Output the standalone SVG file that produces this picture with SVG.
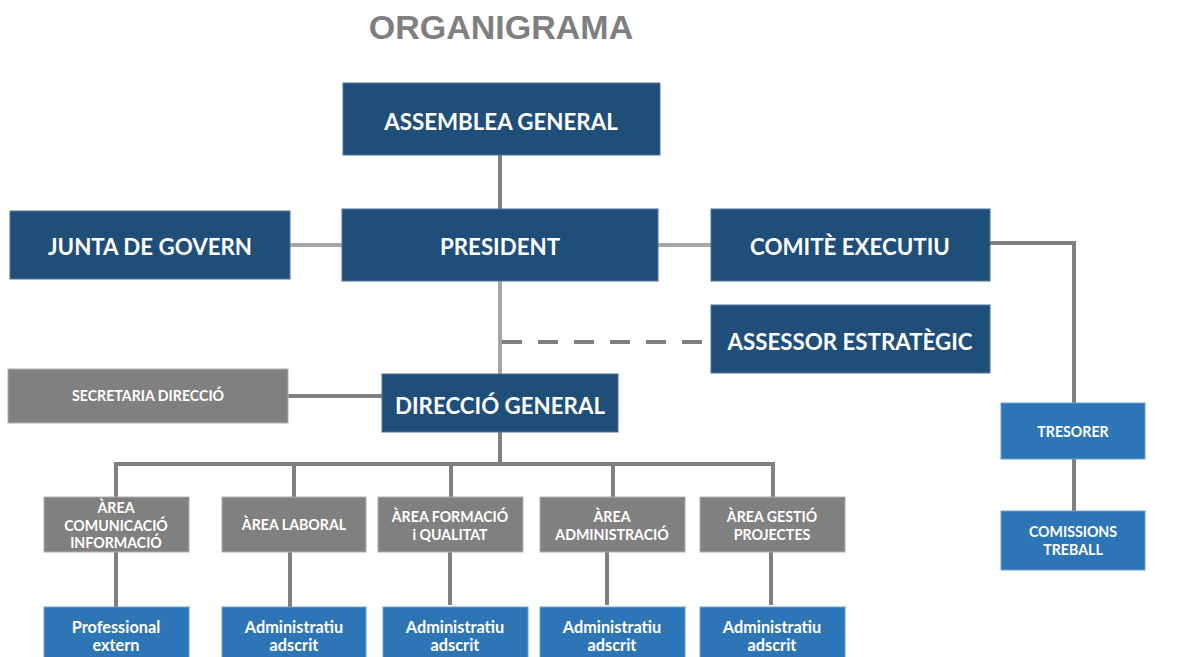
<svg xmlns="http://www.w3.org/2000/svg" width="1189" height="657" viewBox="0 0 1189 657">
<style>
.dk{fill:#1f4e79;stroke:#4f7599;stroke-width:1}
.gr{fill:#808080;stroke:#b0b0b0;stroke-width:1}
.lb{fill:#2e75b6;stroke:#6e9fcf;stroke-width:1}
.t{font-family:Lato,"Open Sans",sans-serif;font-weight:700;fill:#ffffff;text-anchor:middle}
.big{font-size:22.3px}
.sm{font-size:14.2px}
.bt{font-size:16.3px}
.ln{fill:none;stroke:#7f7f7f;stroke-width:4}
.ll{fill:none;stroke:#a6a6a6;stroke-width:4}
</style>
<rect width="1189" height="657" fill="#ffffff"/>
<text x="501" y="39" style="font-family:'Liberation Sans',Arial,sans-serif;font-weight:700;font-size:34px;fill:#7f7f7f" text-anchor="middle">ORGANIGRAMA</text>
<g id="connectors">
<line class="ln" x1="500" y1="155" x2="500" y2="209"/>
<line class="ll" x1="290" y1="245" x2="342" y2="245"/>
<line class="ll" x1="658" y1="245" x2="711" y2="245"/>
<polyline class="ln" points="990,243 1074,243 1074,403"/>
<line class="ll" x1="500" y1="281" x2="500" y2="374"/>
<line class="ln" x1="502" y1="342" x2="702" y2="342" stroke-dasharray="20 16"/>
<line class="ln" x1="288" y1="396" x2="382" y2="396"/>
<line class="ln" x1="500" y1="432" x2="500" y2="464"/>
<polyline class="ln" points="116,497 116,464 773,464 773,497"/>
<line class="ln" x1="294" y1="464" x2="294" y2="497"/>
<line class="ln" x1="451" y1="464" x2="451" y2="497"/>
<line class="ln" x1="613" y1="464" x2="613" y2="497"/>
<line class="ln" x1="116" y1="552" x2="116" y2="607"/>
<line class="ln" x1="290" y1="552" x2="290" y2="607"/>
<line class="ln" x1="450" y1="552" x2="450" y2="605"/>
<line class="ln" x1="607" y1="552" x2="607" y2="605"/>
<line class="ln" x1="771" y1="552" x2="771" y2="605"/>
<line class="ln" x1="1074" y1="459" x2="1074" y2="511"/>
</g>
<g id="assemblea"><rect class="dk" x="343" y="83" width="317" height="72"/><text class="t big" x="501" y="129.5">ASSEMBLEA GENERAL</text></g>
<g id="junta"><rect class="dk" x="10" y="211" width="280" height="68"/><text class="t big" x="150" y="254.5">JUNTA DE GOVERN</text></g>
<g id="president"><rect class="dk" x="342" y="209" width="316" height="72"/><text class="t big" x="500" y="254.5">PRESIDENT</text></g>
<g id="comite"><rect class="dk" x="711" y="209" width="279" height="72"/><text class="t big" x="850" y="254.5">COMITÈ EXECUTIU</text></g>
<g id="assessor"><rect class="dk" x="711" y="305" width="279" height="68"/><text class="t big" x="850" y="349.5">ASSESSOR ESTRATÈGIC</text></g>
<g id="secretaria"><rect class="gr" x="8" y="369" width="280" height="54"/><text class="t sm" x="148" y="401">SECRETARIA DIRECCIÓ</text></g>
<g id="direccio"><rect class="dk" x="382" y="374" width="236" height="58"/><text class="t big" x="500" y="413.5">DIRECCIÓ GENERAL</text></g>
<g id="tresorer"><rect class="lb" x="1001" y="403" width="144" height="56"/><text class="t sm" x="1073" y="437">TRESORER</text></g>
<g id="comissions"><rect class="lb" x="1001" y="511" width="144" height="59"/><text class="t sm" x="1073" y="537">COMISSIONS</text><text class="t sm" x="1073" y="555">TREBALL</text></g>
<g id="area-comunicacio"><rect class="gr" x="44" y="497" width="145" height="55"/><text class="t sm" x="116" y="512.5">ÀREA</text><text class="t sm" x="116" y="530.5">COMUNICACIÓ</text><text class="t sm" x="116" y="547.5">INFORMACIÓ</text></g>
<g id="area-laboral"><rect class="gr" x="222" y="497" width="144" height="55"/><text class="t sm" x="294" y="529.5">ÀREA LABORAL</text></g>
<g id="area-formacio"><rect class="gr" x="378" y="497" width="145" height="55"/><text class="t sm" x="450" y="521.5">ÀREA FORMACIÓ</text><text class="t sm" x="450" y="539.5">i QUALITAT</text></g>
<g id="area-administracio"><rect class="gr" x="540" y="497" width="145" height="55"/><text class="t sm" x="612" y="521.5">ÀREA</text><text class="t sm" x="612" y="539.5">ADMINISTRACIÓ</text></g>
<g id="area-gestio"><rect class="gr" x="700" y="497" width="145" height="55"/><text class="t sm" x="772" y="521.5">ÀREA GESTIÓ</text><text class="t sm" x="772" y="539.5">PROJECTES</text></g>
<g id="professional"><rect class="lb" x="44" y="607" width="145" height="52"/><text class="t bt" x="116" y="632.5">Professional</text><text class="t bt" x="116" y="650.5">extern</text></g>
<g id="adm-laboral"><rect class="lb" x="222" y="607" width="144" height="52"/><text class="t bt" x="294" y="632.5">Administratiu</text><text class="t bt" x="294" y="650.5">adscrit</text></g>
<g id="adm-formacio"><rect class="lb" x="383" y="607" width="145" height="52"/><text class="t bt" x="455" y="632.5">Administratiu</text><text class="t bt" x="455" y="650.5">adscrit</text></g>
<g id="adm-administracio"><rect class="lb" x="540" y="607" width="145" height="52"/><text class="t bt" x="612" y="632.5">Administratiu</text><text class="t bt" x="612" y="650.5">adscrit</text></g>
<g id="adm-gestio"><rect class="lb" x="700" y="607" width="145" height="52"/><text class="t bt" x="772" y="632.5">Administratiu</text><text class="t bt" x="772" y="650.5">adscrit</text></g>
</svg>
